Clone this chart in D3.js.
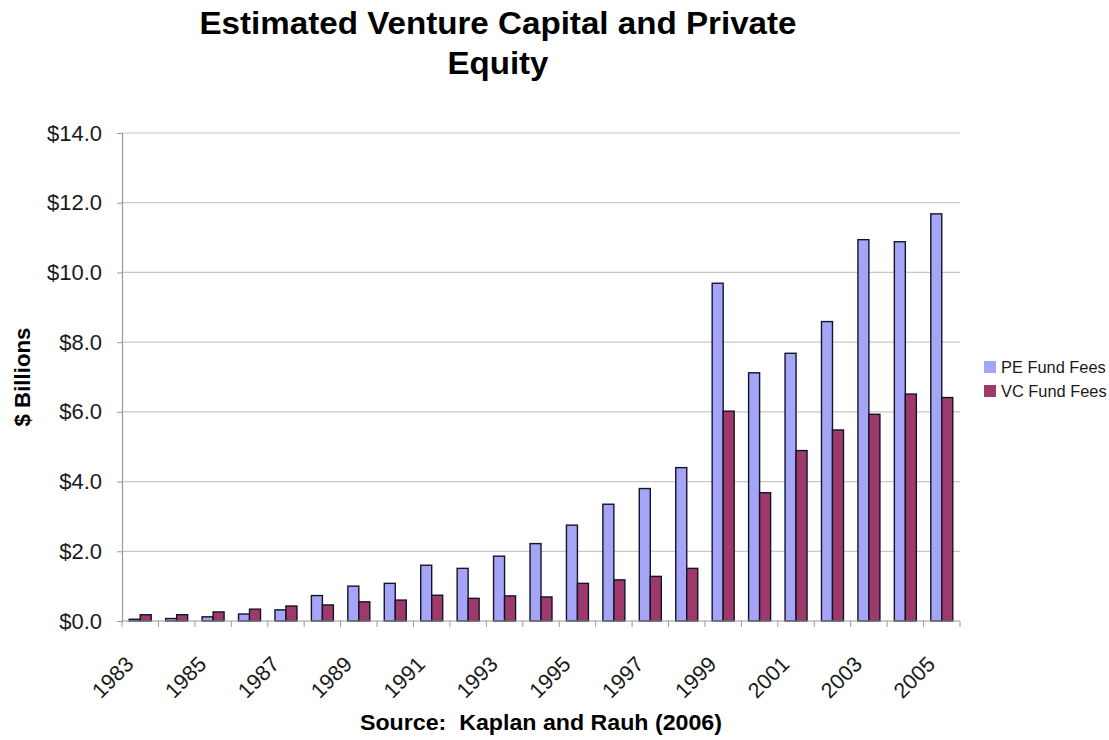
<!DOCTYPE html>
<html>
<head>
<meta charset="utf-8">
<script src="https://cdn.jsdelivr.net/npm/d3@7"></script>
<style>
  html, body { margin: 0; padding: 0; background: #fff; }
  svg { display: block; font-family: "Liberation Sans", Arial, sans-serif; }
</style>
</head>
<body>
<svg id="chart" width="1109" height="740"></svg>
<script>
// Annual fund fees, $ billions
const years = ["1983","1984","1985","1986","1987","1988","1989","1990","1991","1992","1993","1994",
               "1995","1996","1997","1998","1999","2000","2001","2002","2003","2004","2005"];
const peFees = [0.05,0.07,0.12,0.20,0.32,0.73,1.00,1.08,1.60,1.51,1.86,2.22,
                2.75,3.35,3.80,4.40,9.69,7.12,7.68,8.59,10.94,10.88,11.68];
const vcFees = [0.18,0.18,0.26,0.34,0.43,0.46,0.55,0.60,0.74,0.65,0.72,0.69,
                1.08,1.18,1.28,1.51,6.02,3.68,4.89,5.48,5.93,6.51,6.41];
const seriesNames = ["PE Fund Fees", "VC Fund Fees"];
const yTicks = [0, 2, 4, 6, 8, 10, 12, 14];

const colors = ["#A5A5F7", "#9E3A6B"];

const svg = d3.select("#chart");
const plot = { left: 122, right: 960, top: 133, bottom: 621 };

const x = d3.scaleBand().domain(years).range([plot.left, plot.right]).padding(0);
const y = d3.scaleLinear().domain([0, 14]).range([plot.bottom, plot.top]);

// Horizontal gridlines
svg.append("g")
  .selectAll("line")
  .data(yTicks.filter(d => d > 0))
  .join("line")
  .attr("x1", plot.left).attr("x2", plot.right)
  .attr("y1", d => y(d)).attr("y2", d => y(d))
  .attr("stroke", "#c8c8c8").attr("stroke-width", 1.2);

// Y axis
const yAxis = svg.append("g")
  .attr("transform", `translate(${plot.left},0)`)
  .call(d3.axisLeft(y).tickValues(yTicks).tickFormat(d => "$" + d3.format(".1f")(d)).tickSize(5).tickPadding(15));
yAxis.select(".domain").attr("stroke", "#9a9a9a").attr("stroke-width", 1.2);
yAxis.selectAll(".tick line").attr("stroke", "#9a9a9a");
yAxis.selectAll(".tick text")
  .attr("font-size", 22).attr("fill", "#1a1a1a")
  .attr("font-family", "'Liberation Sans', Arial, sans-serif");

// Bars: PE and VC side by side inside each year band
const inner = d3.scaleBand().domain([0, 1]).range([0, 22]);
const bandOffset = (x.bandwidth() - 22) / 2;
const barGroups = svg.append("g")
  .selectAll("g")
  .data(years)
  .join("g")
  .attr("transform", d => `translate(${x(d) + bandOffset},0)`);

barGroups.selectAll("rect")
  .data((d, i) => [peFees[i], vcFees[i]])
  .join("rect")
  .attr("x", (v, j) => inner(j))
  .attr("y", v => y(v))
  .attr("width", inner.bandwidth())
  .attr("height", v => y(0) - y(v))
  .attr("fill", (v, j) => colors[j])
  .attr("stroke", "#141428")
  .attr("stroke-width", 1.4);

// X axis with ticks on category boundaries
const xAxisG = svg.append("g").attr("transform", `translate(0,${plot.bottom})`);
xAxisG.append("line")
  .attr("x1", plot.left).attr("x2", plot.right)
  .attr("y1", 0).attr("y2", 0)
  .attr("stroke", "#9a9a9a").attr("stroke-width", 1.2);
xAxisG.selectAll("line.tick")
  .data(years.concat(["end"]))
  .join("line")
  .attr("class", "tick")
  .attr("x1", (d, i) => plot.left + i * x.bandwidth())
  .attr("x2", (d, i) => plot.left + i * x.bandwidth())
  .attr("y1", 0).attr("y2", 6)
  .attr("stroke", "#9a9a9a");
xAxisG.selectAll("text")
  .data(years.filter((d, i) => i % 2 === 0))
  .join("text")
  .attr("transform", d => `translate(${x(d) + x.bandwidth() / 2 - 16},${34}) rotate(-45)`)
  .attr("text-anchor", "end")
  .attr("dy", "0.7em")
  .attr("font-size", 21.5)
  .attr("fill", "#1a1a1a")
  .text(d => d);

// Titles
const title = svg.append("text")
  .attr("text-anchor", "middle")
  .attr("font-weight", "bold").attr("font-size", 31).attr("fill", "#000");
title.append("tspan").attr("x", 498).attr("y", 34)
  .attr("textLength", 597).attr("lengthAdjust", "spacingAndGlyphs")
  .text("Estimated Venture Capital and Private");
title.append("tspan").attr("x", 498).attr("y", 74)
  .attr("textLength", 101).attr("lengthAdjust", "spacingAndGlyphs")
  .text("Equity");

svg.append("text")
  .attr("transform", `translate(30,377) rotate(-90)`)
  .attr("text-anchor", "middle")
  .attr("font-weight", "bold").attr("font-size", 21.5).attr("fill", "#000")
  .attr("textLength", 99).attr("lengthAdjust", "spacingAndGlyphs")
  .text("$ Billions");

svg.append("text")
  .attr("x", 541).attr("y", 730)
  .attr("text-anchor", "middle")
  .attr("font-weight", "bold").attr("font-size", 22.5).attr("fill", "#000")
  .attr("textLength", 362).attr("lengthAdjust", "spacingAndGlyphs")
  .style("white-space", "pre")
  .text("Source:  Kaplan and Rauh (2006)");

// Legend
const legend = svg.append("g").attr("transform", "translate(984,361)");
const items = legend.selectAll("g")
  .data(seriesNames)
  .join("g")
  .attr("transform", (d, i) => `translate(0,${i * 24})`);
items.append("rect")
  .attr("width", 12).attr("height", 12)
  .attr("fill", (d, i) => colors[i]);
items.append("text")
  .attr("x", 17).attr("y", 6).attr("dy", "0.35em")
  .attr("font-size", 16.4).attr("fill", "#1a1a1a")
  .text(d => d);
</script>
</body>
</html>
